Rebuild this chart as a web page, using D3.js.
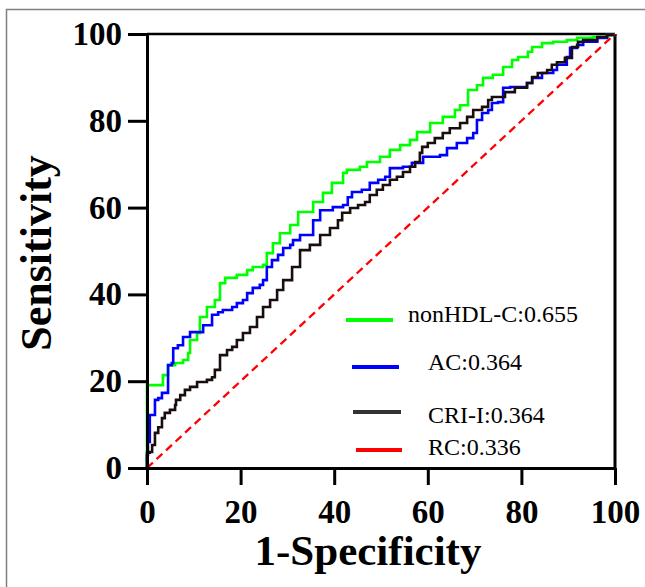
<!DOCTYPE html>
<html>
<head>
<meta charset="utf-8">
<script src="https://cdn.jsdelivr.net/npm/d3@7"></script>
<style>
  html, body { margin: 0; padding: 0; background: #fff; }
  svg { display: block; }
</style>
</head>
<body>
<div id="chart"></div>
<script>
// ROC points: [1-specificity, sensitivity] in %
const nonhdlRoc = [
  [0, 0], [0, 19.1], [0.6, 19.1], [3.4, 21.4], [4.5, 23.7], [6.0, 24.2], [7.7, 24.9],
  [8.8, 26.5], [9.2, 29.5], [10.7, 31.1], [11.3, 34.8], [12.8, 37.1], [14.5, 38.7],
  [15.6, 42.6], [16.7, 43.8], [19.2, 44.5], [21.4, 45.6], [22.6, 46.3], [24.8, 46.8],
  [25.6, 49.5], [26.9, 51.8], [28.4, 54.1], [30.6, 56.0], [32.3, 59.0], [35.5, 61.3],
  [37.6, 63.4], [39.5, 65.7], [41.9, 68.0], [42.7, 68.7], [45.5, 69.4], [47.0, 70.5],
  [49.8, 71.7], [51.9, 73.3], [54.1, 74.4], [56.2, 75.6], [57.7, 77.4], [60.5, 79.5],
  [63.2, 80.9], [65.8, 82.5], [66.9, 83.6], [68.6, 87.1], [70.5, 88.2], [71.8, 89.9],
  [73.9, 90.6], [76.1, 92.4], [78.0, 94.0], [79.3, 94.7], [81.4, 95.9], [82.3, 97.0],
  [84.4, 97.9], [86.8, 98.2], [89.7, 98.6], [91.9, 99.1], [95.3, 99.3], [98.3, 99.8], [100, 100]
];

const acRoc = [
  [0, 0], [0, 3.0], [0.2, 3.0], [0.2, 6.0], [0.6, 12.2], [1.7, 15.7], [2.4, 16.1],
  [3.2, 17.3], [4.5, 17.7], [4.5, 23.7], [5.3, 24.2], [5.6, 27.6], [6.6, 28.3],
  [7.7, 30.2], [9.2, 31.3], [10.9, 31.3], [12.0, 32.9], [13.9, 35.3], [15.2, 35.9],
  [16.2, 36.4], [18.2, 37.1], [19.2, 38.0], [20.5, 38.7], [21.4, 40.3], [22.6, 41.5],
  [24.1, 42.2], [24.8, 43.3], [25.6, 46.3], [26.7, 47.9], [28.0, 49.1], [29.1, 50.7],
  [30.6, 51.4], [31.2, 52.5], [32.7, 53.7], [35.5, 57.1], [37.0, 59.4], [39.7, 60.1],
  [41.9, 60.6], [42.9, 62.4], [43.8, 63.6], [45.9, 64.1], [47.6, 65.7], [49.4, 66.4],
  [50.9, 67.1], [51.9, 69.1], [54.7, 69.4], [56.6, 70.3], [59.0, 71.7], [62.6, 72.1],
  [64.1, 73.7], [66.2, 74.9], [68.4, 76.0], [69.7, 77.2], [70.5, 80.2], [71.6, 81.8],
  [72.9, 82.5], [73.7, 84.1], [75.0, 84.3], [76.1, 87.6], [77.6, 87.8], [81.2, 88.7],
  [82.3, 89.9], [84.4, 91.0], [86.8, 91.7], [87.6, 92.9], [89.7, 94.7], [90.4, 96.8],
  [91.9, 97.5], [93.2, 98.2], [96.2, 99.1], [98.3, 99.8], [100, 100]
];

const criRoc = [
  [0, 0], [0, 3.5], [0.6, 3.7], [1.1, 5.3], [1.7, 8.1], [2.4, 9.4], [3.2, 11.5],
  [3.8, 12.7], [4.9, 13.4], [6.0, 14.5], [6.2, 15.7], [7.1, 16.8], [8.1, 18.0],
  [9.2, 18.7], [10.7, 19.8], [12.8, 20.3], [13.9, 20.9], [14.5, 22.6], [15.6, 26.0],
  [17.1, 27.2], [18.2, 27.9], [19.2, 29.5], [20.5, 31.1], [22.0, 32.5], [23.5, 34.8],
  [24.8, 37.1], [26.3, 38.7], [27.8, 41.0], [29.1, 43.3], [31.0, 46.3], [32.7, 50.2],
  [34.8, 51.4], [37.0, 53.7], [39.1, 55.3], [40.8, 57.1], [41.7, 58.8], [43.4, 59.9],
  [45.1, 60.6], [46.6, 61.3], [47.6, 62.9], [49.1, 64.1], [50.4, 65.2], [51.9, 66.4],
  [53.4, 67.1], [54.7, 68.2], [56.2, 69.4], [57.3, 70.5], [58.3, 72.6], [58.8, 74.0],
  [60.0, 74.9], [61.5, 76.0], [63.2, 77.2], [64.7, 78.3], [66.9, 79.5], [68.4, 80.9],
  [69.7, 82.5], [71.6, 83.2], [72.9, 84.8], [73.7, 85.5], [75.4, 85.5], [76.5, 86.6],
  [78.6, 87.6], [81.2, 88.7], [82.3, 90.1], [83.5, 91.0], [85.5, 91.7], [86.5, 92.9],
  [87.6, 93.5], [89.3, 94.5], [90.8, 97.0], [92.1, 98.2], [93.2, 98.6], [96.2, 99.3],
  [98.3, 99.8], [100, 100]
];

const refLine = [[0, 0], [100, 100]];

const legendLabels = ["nonHDL-C:0.655", "AC:0.364", "CRI-I:0.364", "RC:0.336"];
const seriesColors = ["#00ff00", "#0000ff", "#1a0d0d", "#ff0000"];

const xTicks = [0, 20, 40, 60, 80, 100];
const yTicks = [0, 20, 40, 60, 80, 100];

const W = 645, H = 587;
const plotL = 147, plotR = 615, plotT = 34, plotB = 468;
const serif = "'Liberation Serif', 'Times New Roman', serif";

const svg = d3.select("#chart").append("svg")
  .attr("width", W)
  .attr("height", H);

// outer gray frame (runs off the right/bottom edge like the original)
svg.append("rect")
  .attr("x", 6.5).attr("y", 9.5)
  .attr("width", 700).attr("height", 700)
  .attr("fill", "none")
  .attr("stroke", "#7f7f7f")
  .attr("stroke-width", 1.5);

const x = d3.scaleLinear().domain([0, 100]).range([plotL, plotR]);
const y = d3.scaleLinear().domain([0, 100]).range([plotB, plotT]);

// top and right frame lines
svg.append("line")
  .attr("x1", x(0)).attr("x2", x(100)).attr("y1", y(100)).attr("y2", y(100))
  .attr("stroke", "#000").attr("stroke-width", 2.5);
svg.append("line")
  .attr("x1", x(100)).attr("x2", x(100)).attr("y1", y(100)).attr("y2", y(0))
  .attr("stroke", "#000").attr("stroke-width", 3);

const line = d3.line()
  .x(d => x(d[0]))
  .y(d => y(d[1]))
  .curve(d3.curveStepAfter);

const curves = [nonhdlRoc, acRoc, criRoc];
curves.forEach((pts, i) => {
  svg.append("path")
    .datum(pts)
    .attr("d", line)
    .attr("fill", "none")
    .attr("stroke", seriesColors[i])
    .attr("stroke-width", 2.6)
    .attr("stroke-linejoin", "miter");
});

svg.append("path")
  .datum(refLine)
  .attr("d", d3.line().x(d => x(d[0])).y(d => y(d[1])))
  .attr("fill", "none")
  .attr("stroke", seriesColors[3])
  .attr("stroke-width", 2.3)
  .attr("stroke-dasharray", "8,5");

// axes
const xAxis = svg.append("g")
  .attr("transform", `translate(0,${plotB})`)
  .call(d3.axisBottom(x).tickValues(xTicks).tickSize(17).tickSizeOuter(0).tickPadding(15));

const yAxis = svg.append("g")
  .attr("transform", `translate(${plotL},0)`)
  .call(d3.axisLeft(y).tickValues(yTicks).tickSize(19).tickSizeOuter(0).tickPadding(6));

[xAxis, yAxis].forEach(g => {
  g.select(".domain").attr("stroke", "#000").attr("stroke-width", 3);
  g.selectAll(".tick line").attr("stroke", "#000").attr("stroke-width", 3);
  g.selectAll(".tick text")
    .attr("fill", "#000")
    .style("font-family", serif)
    .style("font-weight", "bold")
    .style("font-size", "33px");
});

// axis titles
svg.append("text")
  .attr("x", 368).attr("y", 565)
  .attr("text-anchor", "middle")
  .style("font-family", serif)
  .style("font-weight", "bold")
  .style("font-size", "43px")
  .text("1-Specificity");

svg.append("text")
  .attr("transform", "translate(51,253) rotate(-90)")
  .attr("text-anchor", "middle")
  .style("font-family", serif)
  .style("font-weight", "bold")
  .style("font-size", "44px")
  .text("Sensitivity");

// legend
const legendRows = [
  { x1: 346, x2: 393, ly: 320, tx: 408, ty: 322 },
  { x1: 352, x2: 399, ly: 367, tx: 428, ty: 370 },
  { x1: 353, x2: 401, ly: 412, tx: 428, ty: 423 },
  { x1: 356, x2: 402, ly: 450, tx: 428, ty: 455 }
];

legendLabels.forEach((label, i) => {
  const r = legendRows[i];
  svg.append("line")
    .attr("x1", r.x1).attr("x2", r.x2)
    .attr("y1", r.ly).attr("y2", r.ly)
    .attr("stroke", i === 2 ? "#333" : seriesColors[i])
    .attr("stroke-width", 4);
  svg.append("text")
    .attr("x", r.tx).attr("y", r.ty)
    .style("font-family", serif)
    .style("font-size", "24px")
    .attr("fill", "#000")
    .text(label);
});
</script>
</body>
</html>
